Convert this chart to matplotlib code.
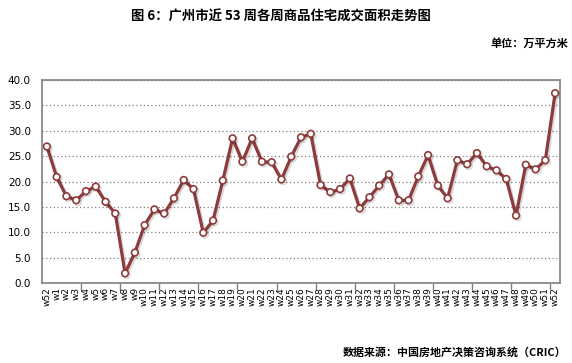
import matplotlib
matplotlib.use("Agg")
import matplotlib.pyplot as plt
import matplotlib.patheffects as pe
from matplotlib.ticker import FixedLocator, NullFormatter

plt.rcParams['font.family'] = ['Noto Sans CJK SC', 'DejaVu Sans']

weeks = ["w52"] + [f"w{i}" for i in range(1, 53)]
values = [26.9, 20.9, 17.1, 16.3, 18.1, 19.0, 16.0, 13.7, 1.9, 6.0,
          11.4, 14.5, 13.7, 16.7, 20.3, 18.5, 9.9, 12.3, 20.2, 28.5,
          23.9, 28.5, 23.9, 23.8, 20.4, 24.9, 28.7, 29.4, 19.3, 17.9,
          18.5, 20.6, 14.7, 16.9, 19.2, 21.4, 16.3, 16.3, 21.0, 25.2,
          19.2, 16.7, 24.2, 23.4, 25.6, 23.0, 22.2, 20.5, 13.3, 23.3,
          22.4, 24.2, 37.4]
yticks = [0, 5, 10, 15, 20, 25, 30, 35, 40]

fig = plt.figure(figsize=(5.72, 3.63), dpi=100)
ax = fig.add_axes([42/572, 1-283/363, (560-42)/572, (283-80)/363])

x = list(range(len(values)))
line, = ax.plot(x, values, color='#8E3B3B', lw=2.3, marker='o', ms=4.8,
                mfc='white', mec='#8E3B3B', mew=1.2, zorder=3)
line.set_path_effects([pe.SimpleLineShadow(offset=(1.2, -1.2), alpha=0.15, shadow_color='black'),
                       pe.Normal()])

ax.set_xlim(-0.5, len(values) - 0.5)
ax.set_ylim(0, 40)
ax.set_yticks(yticks)
ax.set_yticklabels([f"{v:.1f}" for v in yticks], fontsize=7.5, family=['DejaVu Sans'])
ax.yaxis.grid(True, linestyle=(0, (1, 2)), color='#808080', lw=0.9)
ax.set_axisbelow(True)
ax.tick_params(axis='y', length=0, pad=8)

ax.xaxis.set_major_locator(FixedLocator([-0.5 + 4*k for k in range(1, 14)]))
ax.xaxis.set_major_formatter(NullFormatter())
ax.xaxis.set_minor_locator(FixedLocator(x))
ax.set_xticklabels(weeks, minor=True, rotation=90, fontsize=6.5, family=['DejaVu Sans'])
ax.tick_params(axis='x', which='major', length=5, color='#808080', width=1)
ax.tick_params(axis='x', which='minor', length=0, pad=3)

for s in ax.spines.values():
    s.set_color('#808080')
    s.set_linewidth(1.2)

fig.text(281/572, 1-16.5/363, "图 6：广州市近 53 周各周商品住宅成交面积走势图", ha='center', va='center',
         fontsize=9.6, fontweight='bold')
fig.text(568/572, 1-43/363, "单位：万平方米", ha='right', va='center', fontsize=8, fontweight='bold')
fig.text(566/572, 1-352/363, "数据来源：中国房地产决策咨询系统（CRIC）", ha='right', va='center',
         fontsize=7.9, fontweight='bold')

fig.savefig("out.png", dpi=100)
